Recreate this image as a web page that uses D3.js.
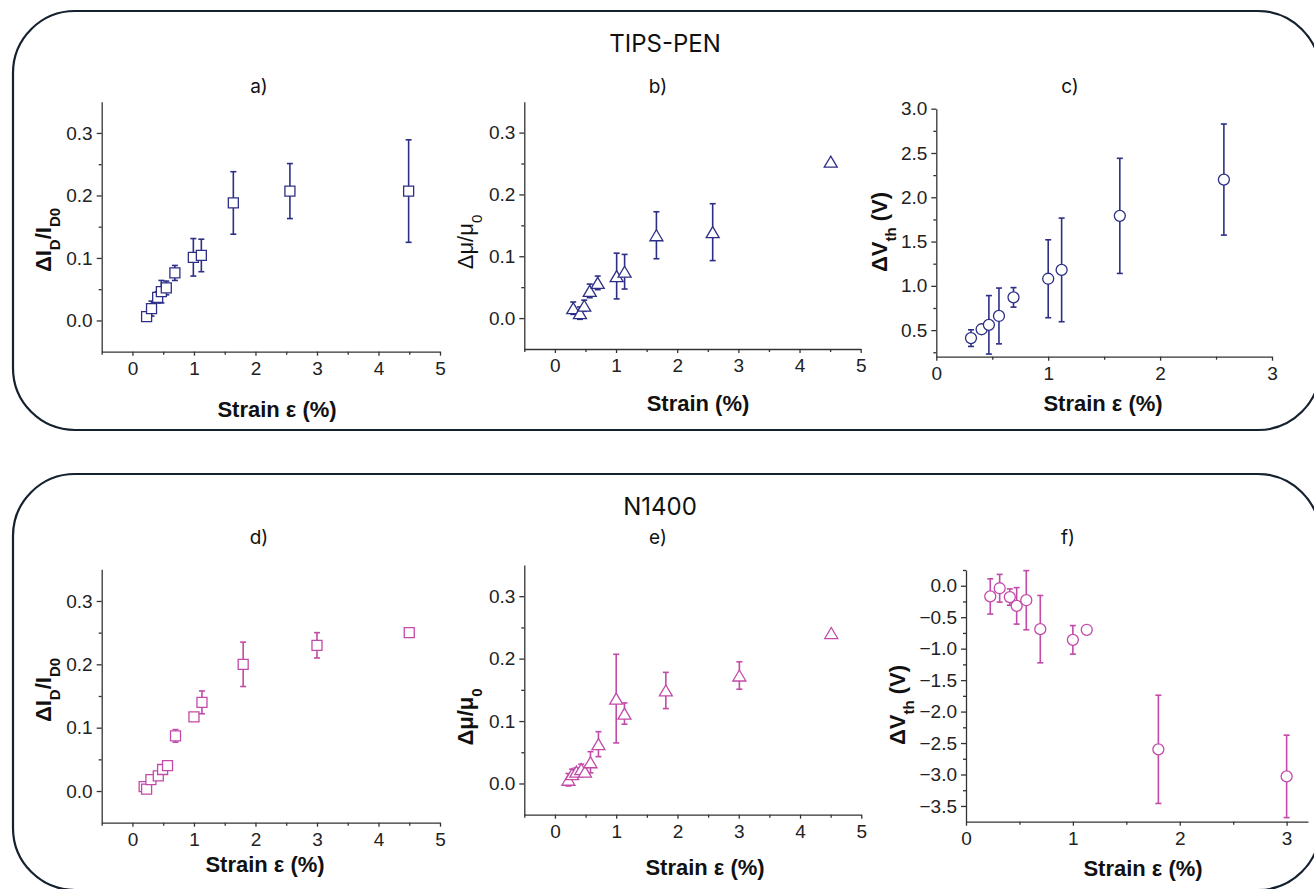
<!DOCTYPE html>
<html lang="en">
<head>
  <meta charset="UTF-8">
  <script src="https://d3js.org/d3.v7.min.js"></script>
  <title>Strain response</title>
  <style>
    body { margin: 0; background: #fff; }
    svg { display: block; font-family: "Liberation Sans", Arial, sans-serif; }
    .tick text { font-family: "Liberation Sans", Arial, sans-serif; font-size: 19px; fill: #222; }
    .axis path, .axis line { stroke: #333; stroke-width: 1.3px; }
    .frame { fill: none; stroke: #15212f; stroke-width: 2.2px; }
    .head { font-family: Inter, "Noto Sans", sans-serif; font-size: 24px; fill: #111; }
    .plabel { font-family: Inter, "Noto Sans", sans-serif; font-size: 19px; fill: #111; }
    .atitle { font-size: 22px; font-weight: bold; fill: #111; }
  </style>
</head>
<body>
<svg id="fig" width="1314" height="889"></svg>
<script>
  const navy = "#2d2f86";
  const pink = "#c24aa9";

  // a) TIPS-PEN drain current
  const aStrain = [0.23, 0.31, 0.41, 0.47, 0.55, 0.69, 0.99, 1.12, 1.64, 2.56, 4.49];
  const aValue  = [0.006, 0.019, 0.037, 0.046, 0.052, 0.076, 0.101, 0.104, 0.188, 0.207, 0.207];
  const aErr    = [0.004, 0.012, 0.009, 0.018, 0.011, 0.012, 0.030, 0.026, 0.050, 0.044, 0.082];

  // b) TIPS-PEN mobility
  const bStrain = [0.30, 0.41, 0.48, 0.57, 0.70, 1.01, 1.14, 1.66, 2.58, 4.51];
  const bValue  = [0.016, 0.008, 0.020, 0.044, 0.057, 0.068, 0.075, 0.134, 0.139, 0.253];
  const bErr    = [0.010, 0.010, 0.009, 0.011, 0.011, 0.037, 0.028, 0.038, 0.046, 0];

  // c) TIPS-PEN threshold voltage
  const cStrain = [0.31, 0.405, 0.47, 0.56, 0.69, 1.00, 1.12, 1.64, 2.57];
  const cValue  = [0.41, 0.51, 0.56, 0.66, 0.87, 1.08, 1.18, 1.79, 2.20];
  const cErr    = [0.094, 0.05, 0.33, 0.315, 0.11, 0.44, 0.585, 0.65, 0.627];

  // d) N1400 drain current
  const dStrain = [0.19, 0.23, 0.30, 0.42, 0.49, 0.57, 0.70, 1.00, 1.13, 1.80, 3.00, 4.50];
  const dValue  = [0.007, 0.003, 0.018, 0.024, 0.034, 0.040, 0.087, 0.117, 0.140, 0.200, 0.230, 0.250];
  const dErr    = [0.005, 0.004, 0.005, 0.005, 0.006, 0.005, 0.010, 0.005, 0.018, 0.035, 0.020, 0];

  // e) N1400 mobility
  const eStrain = [0.22, 0.28, 0.35, 0.43, 0.49, 0.58, 0.71, 1.00, 1.135, 1.81, 3.01, 4.51];
  const eValue  = [0.006, 0.015, 0.019, 0.023, 0.019, 0.034, 0.063, 0.136, 0.112, 0.149, 0.173, 0.241];
  const eErr    = [0.010, 0.008, 0.006, 0.008, 0.006, 0.017, 0.020, 0.071, 0.017, 0.029, 0.022, 0];

  // f) N1400 threshold voltage
  const fStrain = [0.227, 0.315, 0.41, 0.474, 0.564, 0.695, 1.00, 1.13, 1.80, 3.00];
  const fValue  = [-0.17, -0.04, -0.18, -0.32, -0.23, -0.69, -0.86, -0.70, -2.60, -3.03];
  const fErr    = [0.28, 0.22, 0.13, 0.29, 0.47, 0.535, 0.227, 0, 0.86, 0.655];

  const strainTicks = [0, 1, 2, 3, 4, 5];
  const strainMinor = [-0.5, 0.5, 1.5, 2.5, 3.5, 4.5];
  const ratioTicks = [0, 0.1, 0.2, 0.3];
  const ratioMinor = [0.05, 0.15, 0.25];

  const svg = d3.select("#fig");

  // rounded frames
  svg.append("rect").attr("class", "frame")
    .attr("x", 13).attr("y", 11).attr("width", 1307).attr("height", 419).attr("rx", 62);
  svg.append("rect").attr("class", "frame")
    .attr("x", 13).attr("y", 474).attr("width", 1307).attr("height", 416).attr("rx", 62);

  svg.append("text").attr("class", "head").attr("x", 665).attr("y", 52)
    .attr("text-anchor", "middle").text("TIPS-PEN");
  svg.append("text").attr("class", "head").attr("x", 660).attr("y", 515)
    .attr("text-anchor", "middle").text("N1400");

  function shape(kind) {
    if (kind === "square") return "M-5,-5H5V5H-5Z";
    if (kind === "triangle") return "M0,-5.5L6.5,5.5H-6.5Z";
    return d3.arc()({innerRadius: 0, outerRadius: 5.5, startAngle: 0, endAngle: 2 * Math.PI});
  }

  function panel(p) {
    const x = d3.scaleLinear().domain(p.xDom).range(p.xRange);
    const y = d3.scaleLinear().domain(p.yDom).range(p.yRange);
    const g = svg.append("g");

    // minor ticks
    const xMinor = g.append("g").attr("class", "axis")
      .attr("transform", `translate(0,${p.yRange[0]})`)
      .call(d3.axisBottom(x).tickValues(p.xMinor).tickSize(3).tickFormat(""));
    xMinor.select(".domain").remove();
    const yMinor = g.append("g").attr("class", "axis")
      .attr("transform", `translate(${p.xRange[0]},0)`)
      .call(d3.axisLeft(y).tickValues(p.yMinor).tickSize(3).tickFormat(""));
    yMinor.select(".domain").remove();

    g.append("g").attr("class", "axis")
      .attr("transform", `translate(0,${p.yRange[0]})`)
      .call(d3.axisBottom(x).tickValues(p.xTicks).tickSize(4).tickPadding(6)
        .tickSizeOuter(0).tickFormat(d3.format("d")));
    g.append("g").attr("class", "axis")
      .attr("transform", `translate(${p.xRange[0]},0)`)
      .call(d3.axisLeft(y).tickValues(p.yTicks).tickSize(5).tickPadding(4)
        .tickSizeOuter(0).tickFormat(d3.format(".1f")));

    const rows = p.xs.map((v, i) => ({x: v, y: p.ys[i], e: p.es[i]}));

    const bars = g.append("g").attr("stroke", p.color).attr("stroke-width", 1.6).attr("fill", "none");
    rows.filter(d => d.e > 0).forEach(d => {
      const cx = x(d.x), top = y(d.y + d.e), bot = y(d.y - d.e);
      bars.append("line").attr("x1", cx).attr("x2", cx).attr("y1", top).attr("y2", bot);
      bars.append("line").attr("x1", cx - 3).attr("x2", cx + 3).attr("y1", top).attr("y2", top);
      bars.append("line").attr("x1", cx - 3).attr("x2", cx + 3).attr("y1", bot).attr("y2", bot);
    });

    g.append("g").selectAll("path")
      .data(rows).join("path")
      .attr("d", shape(p.marker))
      .attr("transform", d => `translate(${x(d.x)},${y(d.y)})`)
      .attr("fill", "#fff")
      .attr("stroke", p.color)
      .attr("stroke-width", 1.3);

    svg.append("text").attr("class", "plabel")
      .attr("x", p.tag[1]).attr("y", p.tag[2]).attr("text-anchor", "middle").text(p.tag[0]);

    svg.append("text").attr("class", "atitle")
      .attr("x", p.xTitle[1]).attr("y", p.xTitle[2]).attr("text-anchor", "middle").text(p.xTitle[0]);

    const yt = svg.append("text").attr("class", "atitle")
      .attr("text-anchor", "middle")
      .attr("transform", `translate(${p.yTitle[1]},${p.yTitle[2]}) rotate(-90)`)
      .style("font-weight", p.yBold ? "bold" : "normal");
    p.yTitle[0].forEach(part => {
      const t = yt.append("tspan").text(part[0]);
      if (part[1]) t.attr("baseline-shift", "sub").style("font-size", "15px");
    });
  }

  const idLabel = [["ΔI"], ["D", 1], ["/I"], ["D0", 1]];
  const muLabel = [["Δμ/μ"], ["0", 1]];
  const vLabel = [["ΔV"], ["th", 1], [" (V)"]];

  panel({xs: aStrain, ys: aValue, es: aErr, color: navy, marker: "square",
    xDom: [-0.5, 5], xRange: [101.7, 440], yDom: [-0.05, 0.35], yRange: [351.7, 101.7],
    xTicks: strainTicks, xMinor: strainMinor, yTicks: ratioTicks, yMinor: ratioMinor,
    tag: ["a)", 259, 93], xTitle: ["Strain ε (%)", 277, 417], yTitle: [idLabel, 51, 240], yBold: true});

  panel({xs: bStrain, ys: bValue, es: bErr, color: navy, marker: "triangle",
    xDom: [-0.5, 5], xRange: [524.3, 860.7], yDom: [-0.05, 0.35], yRange: [349, 101.7],
    xTicks: strainTicks, xMinor: strainMinor, yTicks: ratioTicks, yMinor: ratioMinor,
    tag: ["b)", 658, 93], xTitle: ["Strain (%)", 698, 411], yTitle: [muLabel, 473, 242], yBold: false});

  panel({xs: cStrain, ys: cValue, es: cErr, color: navy, marker: "circle",
    xDom: [0, 3], xRange: [936.3, 1272], yDom: [0.2, 3.0], yRange: [356.7, 108.7],
    xTicks: [0, 1, 2, 3], xMinor: [0.5, 1.5, 2.5],
    yTicks: [0.5, 1.0, 1.5, 2.0, 2.5, 3.0], yMinor: [0.25, 0.75, 1.25, 1.75, 2.25, 2.75],
    tag: ["c)", 1070, 93], xTitle: ["Strain ε (%)", 1103, 411], yTitle: [vLabel, 887, 232], yBold: true});

  panel({xs: dStrain, ys: dValue, es: dErr, color: pink, marker: "square",
    xDom: [-0.5, 5], xRange: [101.7, 440], yDom: [-0.05, 0.35], yRange: [822.7, 569.3],
    xTicks: strainTicks, xMinor: strainMinor, yTicks: ratioTicks, yMinor: ratioMinor,
    tag: ["d)", 259, 544], xTitle: ["Strain ε (%)", 265, 872], yTitle: [idLabel, 51, 690], yBold: true});

  panel({xs: eStrain, ys: eValue, es: eErr, color: pink, marker: "triangle",
    xDom: [-0.5, 5], xRange: [524.3, 861.3], yDom: [-0.05, 0.35], yRange: [814.7, 565],
    xTicks: strainTicks, xMinor: strainMinor, yTicks: ratioTicks, yMinor: ratioMinor,
    tag: ["e)", 658, 544], xTitle: ["Strain ε (%)", 705, 875], yTitle: [muLabel, 473, 717], yBold: true});

  panel({xs: fStrain, ys: fValue, es: fErr, color: pink, marker: "circle",
    xDom: [0, 3.2], xRange: [966, 1308], yDom: [-3.75, 0.25], yRange: [821.7, 570],
    xTicks: [0, 1, 2, 3], xMinor: [0.5, 1.5, 2.5],
    yTicks: [0, -0.5, -1, -1.5, -2, -2.5, -3, -3.5],
    yMinor: [0.25, -0.25, -0.75, -1.25, -1.75, -2.25, -2.75, -3.25],
    tag: ["f)", 1068, 544], xTitle: ["Strain ε (%)", 1143, 876], yTitle: [vLabel, 905, 705], yBold: true});
</script>
</body>
</html>
